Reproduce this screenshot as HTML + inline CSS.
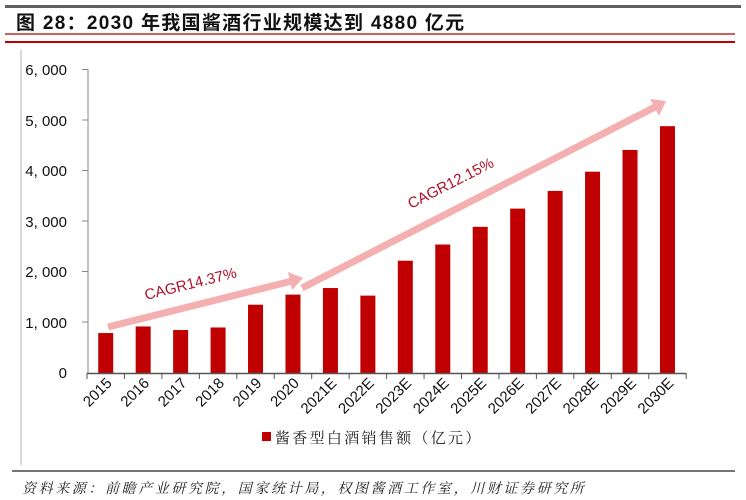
<!DOCTYPE html>
<html><head><meta charset="utf-8"><style>
body{margin:0;background:#fff;width:746px;height:500px;overflow:hidden}
svg{display:block}
</style></head><body>
<svg width="746" height="500" xmlns="http://www.w3.org/2000/svg" font-family="Liberation Sans, Noto Sans CJK SC, sans-serif">
<rect x="5" y="5" width="736" height="3" fill="#606060"/>
<text x="16" y="29" font-size="19" font-weight="bold" letter-spacing="1.3" fill="#111" font-family="Liberation Sans, Noto Sans CJK SC, sans-serif">图 28：2030 年我国酱酒行业规模达到 4880 亿元</text>
<rect x="5" y="33" width="730" height="2" fill="#c86060"/>
<rect x="5" y="41" width="730" height="2" fill="#c00000"/>
<line x1="21" y1="50" x2="21" y2="465" stroke="#ccc" stroke-width="1.5"/>
<line x1="12" y1="471" x2="735" y2="471" stroke="#222" stroke-width="1.2"/>
<text x="22" y="493" font-size="14" letter-spacing="2.6" font-style="italic" fill="#222" font-family="Noto Serif CJK SC, Noto Sans CJK SC, serif">资料来源：前瞻产业研究院，国家统计局，权图酱酒工作室，川财证券研究所</text>
<g font-size="15" fill="#111" text-anchor="end">
<text x="67" y="378">0</text>
<text x="67" y="328">1, 000</text>
<text x="67" y="277">2, 000</text>
<text x="67" y="227">3, 000</text>
<text x="67" y="176">4, 000</text>
<text x="67" y="126">5, 000</text>
<text x="67" y="75">6, 000</text>
</g>
<g stroke="#888" stroke-width="1">
<line x1="88" y1="69" x2="88" y2="373"/>
<line x1="82" y1="69.5" x2="88" y2="69.5"/><line x1="82" y1="120" x2="88" y2="120"/><line x1="82" y1="170.5" x2="88" y2="170.5"/><line x1="82" y1="221" x2="88" y2="221"/><line x1="82" y1="271.5" x2="88" y2="271.5"/><line x1="82" y1="322" x2="88" y2="322"/>
</g>
<g fill="#c00000" id="bars"></g>
<line x1="87" y1="373.5" x2="686" y2="373.5" stroke="#555" stroke-width="1.5"/>
<g id="ticks" stroke="#555"></g>
<g id="labels" font-size="15" fill="#111"></g>
<line x1="108" y1="327" x2="292" y2="281" stroke="#f4b0b0" stroke-width="7"/>
<polygon points="303,278 288,272 292,290" fill="#f4b0b0"/>
<line x1="302" y1="288" x2="655" y2="107" stroke="#f4b0b0" stroke-width="7"/>
<polygon points="666,101 650,99 659,116" fill="#f4b0b0"/>
<text transform="translate(146,300) rotate(-14)" font-size="15" fill="#b0102a">CAGR14.37%</text>
<text transform="translate(411,209) rotate(-27)" font-size="15" fill="#b0102a">CAGR12.15%</text>
<rect x="262" y="432" width="9" height="9" fill="#c00000"/>
<text x="275" y="443" font-size="15" letter-spacing="2.3" fill="#222" font-family="Noto Serif CJK SC, Noto Sans CJK SC, serif">酱香型白酒销售额（亿元）</text>
</svg>
<script>
const v=[790,920,850,900,1350,1550,1680,1530,2220,2540,2890,3250,3600,3980,4410,4880];
const l=["2015","2016","2017","2018","2019","2020","2021E","2022E","2023E","2024E","2025E","2026E","2027E","2028E","2029E","2030E"];
const ns="http://www.w3.org/2000/svg";
const x0=87,w=37.45;
const B=document.getElementById("bars"),T=document.getElementById("ticks"),L=document.getElementById("labels");
for(let i=0;i<16;i++){
 const c=x0+w*(i+0.5);
 const r=document.createElementNS(ns,"rect");
 const h=v[i]*0.05058;
 r.setAttribute("x",c-7.5);r.setAttribute("y",373-h);r.setAttribute("width",15);r.setAttribute("height",h);
 B.appendChild(r);
 const t=document.createElementNS(ns,"text");
 t.setAttribute("transform",`translate(${c+7},384) rotate(-45)`);
 t.setAttribute("text-anchor","end");t.textContent=l[i];L.appendChild(t);
}
for(let i=0;i<=16;i++){
 const ln=document.createElementNS(ns,"line");const x=x0+w*i;
 ln.setAttribute("x1",x);ln.setAttribute("x2",x);ln.setAttribute("y1",373);ln.setAttribute("y2",379);T.appendChild(ln);
}
</script>
</body></html>
